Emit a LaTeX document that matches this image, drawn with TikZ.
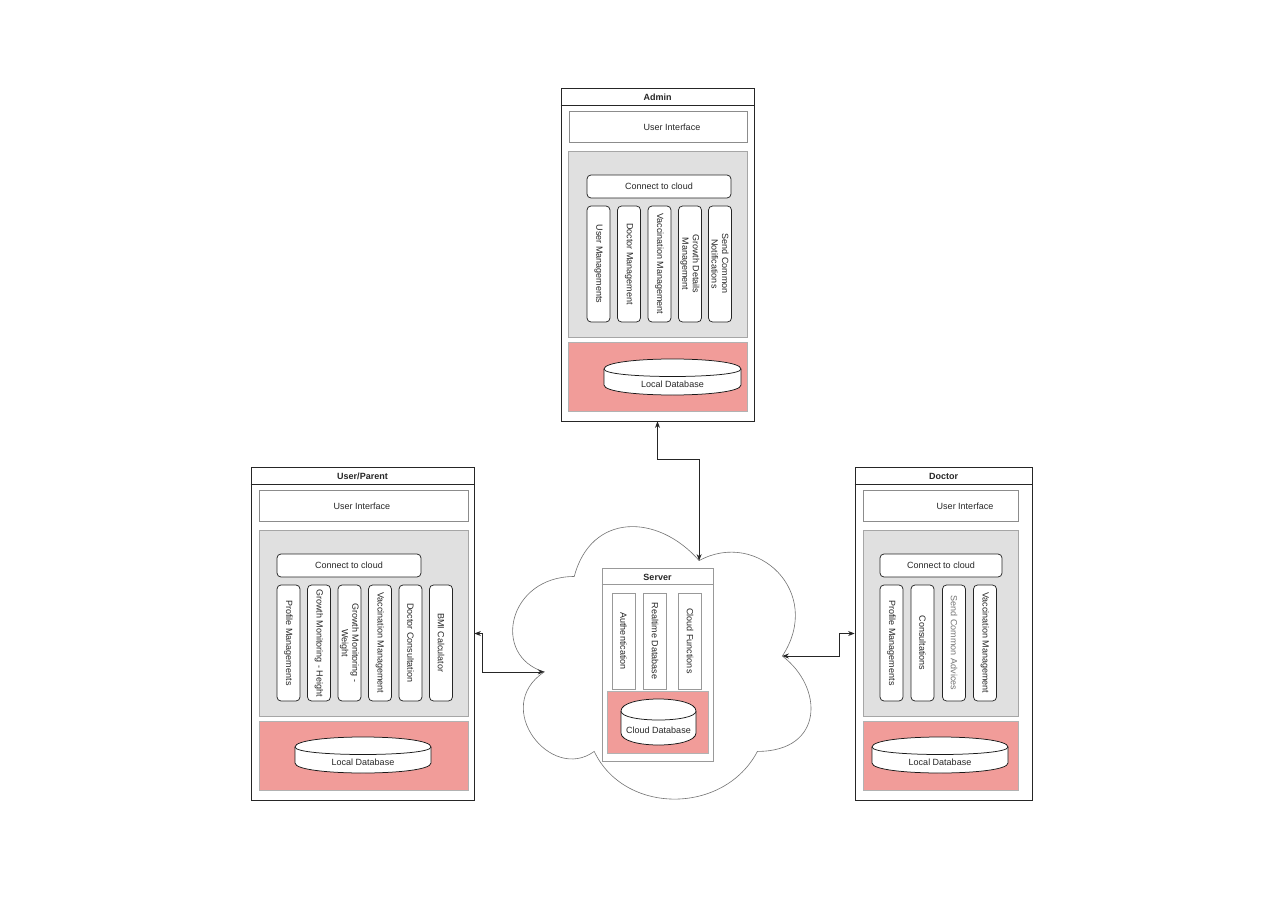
\documentclass[tikz,border=0pt]{standalone}
\usepackage{fontspec}
\setmainfont{Liberation Sans}
\usetikzlibrary{arrows.meta,positioning}
\definecolor{areagray}{HTML}{E0E0E0}
\definecolor{dbpink}{HTML}{F19C99}
\newcommand{\localdb}[7]{%
	\draw[dbline] (#2,#3+#6) .. controls (#2,#3-#6/3) and (#2+#4,#3-#6/3) .. (#2+#4,#3+#6) -- (#2+#4,#3+#5-#6) .. controls (#2+#4,#3+#5+#6/3) and (#2,#3+#5+#6/3) .. (#2,#3+#5-#6) -- cycle ;
	\draw[dbline] (#2,#3+#6) .. controls (#2,#3+2*#6) and (#2+#4,#3+2*#6) .. (#2+#4,#3+#6) ;
	\node (#1) at (#2+#4/2,#3+#5/2+0.7*#6) {#7};
}
\begin{document}
\begin{tikzpicture}[x=1pt,y=-1pt,line width=0.75pt,
		every node/.style={font=\fontsize{9}{10.5}\selectfont,text=black!85,inner sep=1pt},
		panel/.style={draw=black!85,fill=white,minimum height=333pt},
		title/.style={font=\fontsize{9}{10.5}\selectfont\bfseries},
		uibox/.style={draw=black!45,fill=white,minimum height=31pt},
		area/.style={draw=black!35,fill=areagray,minimum height=186pt},
		cloudbtn/.style={draw=black!85,fill=white,rounded corners=4pt,minimum height=23pt},
		col/.style={draw=black!85,fill=white,rounded corners=4pt,rotate=-90,minimum width=116pt,minimum height=23pt,align=center},
		srvcol/.style={draw=black!40,fill=white,rotate=-90,minimum width=96pt,minimum height=23pt},
		dbarea/.style={draw=black!30,fill=dbpink,minimum height=69pt},
		dbline/.style={draw=black!90,fill=white},
		cloudline/.style={draw=black!55,fill=white,line width=0.6pt},
		conn/.style={{Stealth[length=6.5pt,width=5pt]}-{Stealth[length=6.5pt,width=5pt]},draw=black!85}]
	\fill[white] (0,0) rectangle (1280,904) ;
	\useasboundingbox (0,0) rectangle (1280,904) ;

	\node[panel,minimum width=193pt] (admin) at (657.5,254.5) {} ;
	\draw[black!85] ([yshift=-18pt]admin.north west) -- ([yshift=-18pt]admin.north east) ;
	\node[title] (admin-title) at (657.5,97) {Admin} ;
	\node[uibox,minimum width=178pt] (admin-ui) at (658,126.5) {} ;
	\node (admin-uitext) at (672,127) {User Interface} ;
	\node[area,minimum width=179pt] (admin-area) at (657.5,244) {} ;
	\node[cloudbtn,minimum width=144pt] (admin-conn) at (659,186.5) {Connect to cloud} ;
	\node[col] (admin-c1) at (598.5,264) {User Managements} ;
	\node[col] (admin-c2) at (629,264) {Doctor Management} ;
	\node[col] (admin-c3) at (659.5,264) {Vaccination Management} ;
	\node[col] (admin-c4) at (690,264) {Growth Details\\Management} ;
	\node[col] (admin-c5) at (720,264) {Send Common\\Notifications} ;
	\node[dbarea,minimum width=179pt] (admin-dbarea) at (657.5,376.5) {} ;
	\localdb{admin-db}{604}{359}{137}{36}{10}{Local Database}

	\node[panel,minimum width=223pt] (user) at (362.5,633.5) {} ;
	\draw[black!85] ([yshift=-18pt]user.north west) -- ([yshift=-18pt]user.north east) ;
	\node[title] (user-title) at (362.5,476) {User/Parent} ;
	\node[uibox,minimum width=209pt] (user-ui) at (363.5,505.5) {} ;
	\node (user-uitext) at (362,506) {User Interface} ;
	\node[area,minimum width=209pt] (user-area) at (363.5,623) {} ;
	\node[cloudbtn,minimum width=144pt] (user-conn) at (349,565.5) {Connect to cloud} ;
	\node[col] (user-c1) at (288.5,643) {Profile Managements} ;
	\node[col] (user-c2) at (319,643) {Growth Monitoring - Height} ;
	\node[col] (user-c3) at (349.5,643) {Growth Monitoring -\\Weight} ;
	\node[col] (user-c4) at (380,643) {Vaccination Management} ;
	\node[col] (user-c5) at (410.5,643) {Doctor Consultation} ;
	\node[col] (user-c6) at (441,643) {BMI Calculator} ;
	\node[dbarea,minimum width=209pt] (user-dbarea) at (363.5,755.5) {} ;
	\localdb{user-db}{295}{737}{136}{36}{10}{Local Database}

	\node[panel,minimum width=177pt] (doctor) at (943.5,633.5) {} ;
	\draw[black!85] ([yshift=-18pt]doctor.north west) -- ([yshift=-18pt]doctor.north east) ;
	\node[title] (doctor-title) at (943.5,476) {Doctor} ;
	\node[uibox,minimum width=155pt] (doctor-ui) at (940.5,505.5) {} ;
	\node (doctor-uitext) at (965,506) {User Interface} ;
	\node[area,minimum width=155pt] (doctor-area) at (940.5,623) {} ;
	\node[cloudbtn,minimum width=122pt] (doctor-conn) at (941,565.5) {Connect to cloud} ;
	\node[col] (doctor-c1) at (891.5,643) {Profile Managements} ;
	\node[col] (doctor-c2) at (922.5,643) {Consultations} ;
	\node[col,text=black!55] (doctor-c3) at (954,643) {Send Common Advices} ;
	\node[col] (doctor-c4) at (985,643) {Vaccination Management} ;
	\node[dbarea,minimum width=155pt] (doctor-dbarea) at (940.5,755.5) {} ;
	\localdb{doctor-db}{872}{737}{136}{36}{10}{Local Database}

	\begin{scope}[shift={(491,497)},x=333pt,y=-318pt]
		\draw[cloudline] (0.25,0.25) .. controls (0.05,0.25) and (0,0.5) .. (0.16,0.55) .. controls (0,0.66) and (0.18,0.9) .. (0.31,0.8) .. controls (0.4,1) and (0.7,1) .. (0.8,0.8) .. controls (1,0.8) and (1,0.6) .. (0.875,0.5) .. controls (1,0.3) and (0.8,0.1) .. (0.625,0.2) .. controls (0.5,0.05) and (0.3,0.05) .. (0.25,0.25) -- cycle ;
		\coordinate (cloud-top) at (0.625,0.2) ;
		\coordinate (cloud-left) at (0.16,0.55) ;
		\coordinate (cloud-right) at (0.875,0.5) ;
	\end{scope}

	\node[draw=black!40,fill=white,minimum width=111pt,minimum height=193pt] (server) at (657.5,664.5) {} ;
	\draw[black!40] ([yshift=-17pt]server.north west) -- ([yshift=-17pt]server.north east) ;
	\node[title] (server-title) at (657.5,577) {Server} ;
	\node[srvcol] (server-c1) at (623.5,641) {Authentication} ;
	\node[srvcol] (server-c2) at (655,641) {Realtime Database} ;
	\node[srvcol] (server-c3) at (690,641) {Cloud Functions} ;
	\node[dbarea,minimum width=101pt,minimum height=62pt] (server-dbarea) at (657.5,722) {} ;
	\localdb{cloud-db}{621}{699}{75}{46}{12}{Cloud Database}

	\draw[conn] (admin.south) -- ++(0,38) -| (cloud-top) ;
	\draw[conn] (user.east) -- ++(8,0) |- (cloud-left) ;
	\draw[conn] (cloud-right) -- ++(57,0) |- (doctor.west) ;
\end{tikzpicture}
\end{document}
